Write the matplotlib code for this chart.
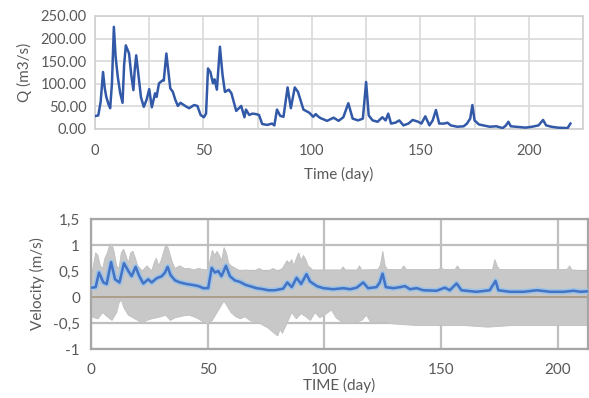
import matplotlib
matplotlib.use("Agg")
import matplotlib.pyplot as plt
import numpy as np

plt.rcParams["font.family"] = ["Lato", "DejaVu Sans"]

# Discharge series (day, m3/s).
q_day = [0.5, 1.5, 2.6, 3.7, 4.5, 5.2, 6.2, 7.0, 7.8, 8.7,
         9.5, 10.5, 11.6, 12.7, 13.4, 14.2, 15.7, 16.7, 17.7, 18.3,
         19.0, 20.0, 21.2, 22.5, 23.8, 25.0, 26.2, 27.7, 28.4, 29.5,
         31.0, 31.7, 32.9, 34.7, 35.9, 37.0, 38.2, 39.4, 41.9, 43.4,
         45.7, 47.2, 48.7, 50.2, 51.2, 52.1, 53.2, 54.4, 55.1, 56.2,
         57.6, 58.8, 59.9, 61.7, 62.9, 65.1, 67.4, 68.9, 69.6, 71.1,
         72.6, 74.2, 75.6, 77.1, 79.4, 81.6, 82.7, 83.9, 85.4, 86.9,
         88.8, 90.3, 92.1, 93.6, 96.1, 98.8, 100.6, 101.8, 102.8, 104.0,
         107.0, 110.0, 112.3, 114.5, 116.8, 118.8, 121.3, 123.5, 125.0, 126.2,
         128.0, 130.3, 132.5, 134.0, 135.2, 136.5, 138.5, 140.3, 142.2, 144.5,
         146.5, 149.0, 150.5, 152.3, 154.2, 155.7, 157.2, 158.7, 161.0, 162.5,
         164.0, 167.0, 170.0, 171.5, 173.0, 174.0, 175.0, 177.0, 179.0, 182.0,
         185.0, 188.0, 189.5, 190.6, 191.7, 194.0, 198.5, 201.5, 204.5, 206.6,
         208.0, 210.4, 213.4, 217.9, 219.2]
q_val = [29, 30, 60, 126, 90, 71, 55, 46, 100, 226,
         160, 115, 80, 58, 140, 185, 167, 120, 86, 130,
         163, 120, 70, 49, 65, 88, 48, 79, 71, 101,
         107, 107, 167, 90, 82, 65, 51, 58, 50, 46,
         53, 51, 31, 26, 34, 134, 126, 101, 110, 87,
         182, 120, 82, 87, 79, 40, 51, 26, 43, 31,
         34, 33, 31, 11, 9, 12, 8, 43, 29, 27,
         92, 46, 92, 82, 43, 36, 27, 33, 28, 24,
         18, 25, 18, 26, 57, 23, 19, 23, 104, 30,
         19, 16, 26, 19, 34, 12, 14, 19, 8, 12,
         20, 16, 12, 28, 8, 19, 42, 12, 12, 14,
         8, 5, 6, 12, 23, 53, 19, 10, 8, 5,
         6, 2, 8, 16, 6, 5, 3, 5, 8, 20,
         8, 5, 3, 2, 12]

# Mean velocity (day, m/s) from the lower chart.
v_day = [0.3, 2, 3.4, 5.3, 6.7, 8.6, 10.3, 12.2, 14.1, 16,
         17.4, 19.1, 20.7, 22.4, 24.5, 26, 28.1, 30.3, 31.7, 32.8,
         34.1, 36, 38.1, 41, 43.8, 46, 48.1, 50.2, 51.7, 53.1,
         54.5, 55.9, 57.8, 59.5, 61.6, 63.8, 66.4, 68, 70.9, 73.8,
         76, 78.8, 81, 82.3, 84.1, 86, 88.1, 90, 92.3, 93.8,
         96.7, 99.5, 103.8, 108.1, 111, 113.8, 116.6, 118.7, 122.3, 123.7,
         124.9, 126.3, 129.5, 132.4, 134.5, 136.6, 139.5, 142.3, 148, 151.6,
         153.7, 156.6, 158.7, 165.1, 170.8, 173.3, 174.5, 179.5, 185.2, 191,
         196.7, 202.4, 206.7, 209.6, 213]
v_val = [0.18, 0.19, 0.47, 0.28, 0.25, 0.67, 0.34, 0.28, 0.65, 0.5,
         0.4, 0.58, 0.4, 0.26, 0.34, 0.28, 0.36, 0.4, 0.47, 0.58,
         0.42, 0.32, 0.28, 0.25, 0.23, 0.21, 0.17, 0.17, 0.56, 0.47,
         0.5, 0.4, 0.6, 0.4, 0.32, 0.29, 0.23, 0.21, 0.17, 0.15,
         0.13, 0.13, 0.15, 0.16, 0.28, 0.19, 0.37, 0.25, 0.44, 0.3,
         0.21, 0.17, 0.15, 0.17, 0.15, 0.18, 0.28, 0.17, 0.19, 0.28,
         0.45, 0.19, 0.17, 0.19, 0.21, 0.15, 0.17, 0.13, 0.12, 0.18,
         0.13, 0.26, 0.13, 0.1, 0.13, 0.31, 0.13, 0.1, 0.1, 0.13,
         0.1, 0.1, 0.12, 0.1, 0.11]

# Envelope of the instantaneous velocity (grey band).
up_day = [0, 1, 2, 3, 4, 5, 6, 7, 8, 9,
          10, 11, 12, 13, 14, 15, 16, 17, 18, 19,
          20, 21, 22, 24, 25, 26, 27, 28, 29, 30,
          31, 32, 33, 34, 35, 36, 38, 40, 42, 44,
          46, 48, 50, 51, 52, 53, 54, 55, 56, 57,
          58, 59, 60, 62, 64, 66, 70, 72, 74, 76,
          78, 80, 82, 84, 85, 86, 87, 88, 89, 90,
          91, 92, 93, 95, 107, 108, 109, 114, 115, 116,
          123, 124, 125, 126, 127, 133, 134, 135, 149, 150,
          151, 156, 157, 158, 172, 173, 174, 175, 204, 205,
          206, 213]
up_val = [0.35, 0.6, 0.85, 0.8, 0.6, 0.55, 0.75, 0.85, 1.0, 1.02,
          0.85, 0.6, 0.55, 0.85, 0.92, 0.8, 0.65, 0.85, 0.88, 0.75,
          0.6, 0.55, 0.5, 0.6, 0.55, 0.5, 0.65, 0.75, 0.6, 0.7,
          0.85, 1.0, 0.95, 0.8, 0.65, 0.55, 0.6, 0.55, 0.55, 0.52,
          0.55, 0.53, 0.52, 0.7, 0.9, 0.8, 0.88, 0.8, 0.7, 0.95,
          0.85, 0.65, 0.6, 0.55, 0.5, 0.52, 0.5, 0.55, 0.5, 0.5,
          0.55, 0.5, 0.55, 0.7, 0.65, 0.72, 0.6, 0.75, 0.85, 0.7,
          0.8, 0.72, 0.6, 0.52, 0.52, 0.58, 0.52, 0.52, 0.6, 0.52,
          0.53, 0.62, 0.88, 0.6, 0.53, 0.53, 0.6, 0.53, 0.53, 0.57,
          0.53, 0.53, 0.6, 0.53, 0.53, 0.72, 0.6, 0.53, 0.53, 0.6,
          0.52, 0.5]
lo_day = [0, 3, 5, 7, 9, 11, 12, 13, 14, 16,
          18, 20, 22, 24, 26, 28, 30, 32, 34, 36,
          38, 40, 42, 44, 46, 48, 50, 52, 54, 56,
          57, 58, 60, 62, 64, 66, 68, 70, 72, 74,
          76, 78, 80, 81, 82, 84, 86, 88, 90, 92,
          94, 96, 98, 100, 103, 105, 108, 112, 116, 118,
          120, 125, 130, 140, 150, 160, 170, 180, 190, 200,
          213]
lo_val = [-0.38, -0.42, -0.3, -0.38, -0.45, -0.3, -0.12, -0.05, -0.2, -0.35,
          -0.4, -0.45, -0.5, -0.45, -0.42, -0.4, -0.38, -0.35, -0.45, -0.4,
          -0.38, -0.36, -0.35, -0.38, -0.42, -0.48, -0.52, -0.45, -0.3, -0.15,
          -0.08, -0.15, -0.3, -0.38, -0.42, -0.38, -0.45, -0.48, -0.5, -0.55,
          -0.6, -0.68, -0.75, -0.62, -0.7, -0.5, -0.3, -0.42, -0.32, -0.38,
          -0.45, -0.3, -0.4, -0.35, -0.25, -0.4, -0.5, -0.5, -0.45, -0.35,
          -0.5, -0.48, -0.52, -0.55, -0.55, -0.55, -0.58, -0.55, -0.55, -0.55,
          -0.55]

TEXT = "#595959"


def desenhar_vazao(ax):
    ax.plot(q_day, q_val, color="#3259a8", linewidth=1.8, zorder=3)
    ax.set_xlim(0, 219.2)
    ax.set_ylim(0, 250)
    ax.set_xticks(np.arange(0, 226, 25))
    ax.set_xticklabels([str(t) if t % 50 == 0 else "" for t in range(0, 226, 25)])
    ax.set_yticks(np.arange(0, 251, 50))
    ax.set_yticklabels([f"{t:.2f}" for t in range(0, 251, 50)])
    ax.grid(True, color="#d9d9d9", linewidth=1.2)
    for s in ax.spines.values():
        s.set_color("#d0d0d0")
        s.set_linewidth(1.2)
    ax.tick_params(length=0, labelsize=10.5, colors=TEXT, pad=6)
    ax.tick_params(axis="x", pad=11)
    ax.set_xlabel("Time (day)", fontsize=11, color=TEXT, labelpad=6)
    ax.set_ylabel("Q (m3/s)", fontsize=11, color=TEXT, labelpad=6)


def desenhar_velocidade(ax):
    xs = np.concatenate([up_day, lo_day[::-1]])
    ys = np.concatenate([up_val, lo_val[::-1]])
    ax.fill(xs, ys, color="#c8c8c8", linewidth=0.6, edgecolor="#c0c0c0", zorder=2)
    ax.axhline(0, color="#ad9f8a", linewidth=1.4, zorder=2.5)
    ax.plot(v_day, v_val, color="#9dc3e6", linewidth=4, zorder=3)
    ax.plot(v_day, v_val, color="#4472c4", linewidth=1.8, zorder=4)
    ax.set_xlim(0, 212.9)
    ax.set_ylim(-1, 1.5)
    ax.set_xticks([0, 50, 100, 150, 200])
    ax.set_yticks([-1, -0.5, 0, 0.5, 1, 1.5])
    ax.set_yticklabels(["-1", "-0,5", "0", "0,5", "1", "1,5"])
    ax.grid(True, color="#bfbfbf", linewidth=1.6, zorder=1)
    ax.set_axisbelow(True)
    for s in ax.spines.values():
        s.set_color("#a6a6a6")
        s.set_linewidth(1.6)
    ax.tick_params(length=0, labelsize=11, colors=TEXT, pad=8)
    ax.tick_params(axis="x", pad=10)
    ax.set_xlabel("TIME (day)", fontsize=11, color=TEXT, labelpad=1)
    ax.set_ylabel("Velocity (m/s)", fontsize=11, color=TEXT, labelpad=6)


fig = plt.figure(figsize=(5.89, 3.98), dpi=100)
ax1 = fig.add_axes([0.1613, 0.6759, 0.8285, 0.2839])
ax2 = fig.add_axes([0.1545, 0.1231, 0.8438, 0.3266])
desenhar_vazao(ax1)
desenhar_velocidade(ax2)
fig.savefig("out.png", dpi=100)
